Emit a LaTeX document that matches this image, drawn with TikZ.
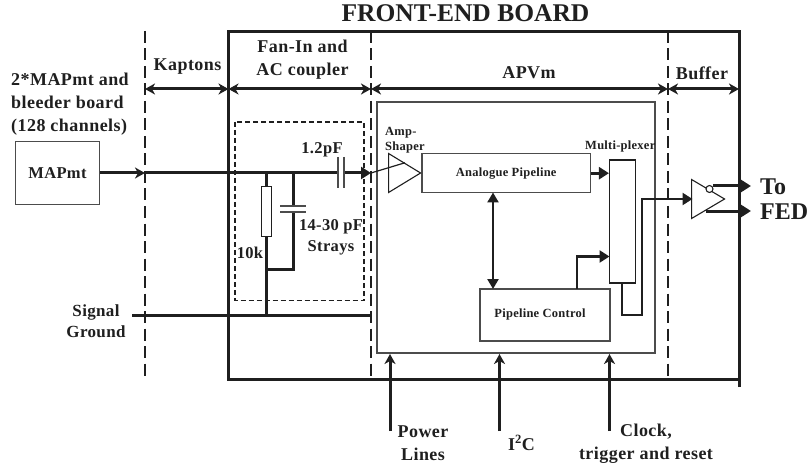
\documentclass[tikz,border=0pt]{standalone}
\usepackage{fontspec}
\setmainfont{Liberation Serif}
\usetikzlibrary{arrows.meta,shapes.geometric}
\definecolor{ink}{gray}{0.12}
\definecolor{edge}{gray}{0.3}
\tikzset{
  wire/.style={draw=ink,line width=3pt},
  wirem/.style={draw=ink,line width=2.4pt},
  thinw/.style={draw=ink,line width=1.2pt},
  dashline/.style={draw=ink,line width=2pt,dash pattern=on 12pt off 5.5pt},
  innerdash/.style={draw=ink,line width=1.6pt,dash pattern=on 5pt off 3pt},
  blockbox/.style={draw=edge,line width=1.1pt,rectangle,inner sep=0pt,font=\bfseries\fontsize{12.5}{15}\selectfont\addfontfeature{LetterSpace=2},text=ink},
  lab/.style={inner sep=0pt,text=ink,font=\bfseries\fontsize{18}{23}\selectfont\addfontfeature{LetterSpace=2.5}},
  labm/.style={inner sep=0pt,text=ink,font=\bfseries\fontsize{16.5}{21}\selectfont\addfontfeature{LetterSpace=2}},
  labl/.style={inner sep=0pt,text=ink,font=\bfseries\fontsize{24}{26}\selectfont},
  labs/.style={inner sep=0pt,text=ink,font=\bfseries\fontsize{12.5}{15}\selectfont\addfontfeature{LetterSpace=2}},
  amp/.style={draw=ink,line width=1.1pt,shape=isosceles triangle,isosceles triangle stretches,inner sep=0pt,anchor=apex,fill=white},
  harr/.style={{Stealth[length=10pt,width=11pt,inset=3pt]}-{Stealth[length=10pt,width=11pt,inset=3pt]}},
  tip/.style={-{Stealth[length=10pt,width=11pt,inset=3pt]}},
  soltip/.style={-{Stealth[length=10pt,width=12pt,inset=0pt]}},
  soltwo/.style={{Stealth[length=10pt,width=11pt,inset=0pt]}-{Stealth[length=10pt,width=11pt,inset=0pt]}},
}
\begin{document}
\begin{tikzpicture}[x=1pt,y=-1pt]
\useasboundingbox (0,0) rectangle (809,468);
% guide coordinates
\coordinate (dAt) at (145,31); \coordinate (dAb) at (145,380);
\coordinate (bTL) at (228.5,31.5); \coordinate (bTR) at (739,31.5);
\coordinate (bBL) at (228.5,379.5); \coordinate (bBR) at (739,379.5); \coordinate (bEnd) at (739,387);
\coordinate (dBt) at (371,31); \coordinate (dBb) at (371,315.5);
\coordinate (dCt) at (668,31); \coordinate (dCb) at (668,379.5);
\coordinate (h1) at (145,89); \coordinate (h2) at (228.5,89); \coordinate (h3) at (371,89); \coordinate (h4) at (668,89); \coordinate (h5) at (739,89);
% frame
\draw[dashline] (dAt) -- (dAb);
\draw[dashline] (dBt) -- (dBb) -- (371,379);
\draw[dashline] (dCt) -- (dCb);
\draw[wire,line join=miter] (bEnd) -- (bTR) -- (bTL) -- (bBL) -- (bBR);
\draw[wire,harr] (h1) -- (h2);
\draw[wire,harr] (h2) -- (h3);
\draw[wire,harr] (h3) -- (h4);
\draw[wire,harr] (h4) -- (h5);
% boxes
\node[blockbox,minimum width=278pt,minimum height=251pt] (apv) at (516,227.5) {};
\draw[innerdash] (235,122) rectangle (364,300.5);
\node[blockbox,minimum width=84pt,minimum height=63pt,font=\bfseries\fontsize{16.5}{19}\selectfont\addfontfeature{LetterSpace=2}] (pmt) at (57.5,173) {MAPmt};
\node[blockbox,minimum width=168.5pt,minimum height=38.5pt] (pipe) at (506.2,173.2) {Analogue Pipeline};
\node[blockbox,minimum width=26pt,minimum height=123pt,draw=ink] (mux) at (622.5,221.5) {};
\node[blockbox,minimum width=130pt,minimum height=52pt] (ctrl) at (545,315) {};
\node[labs] (ctrltxt) at (540,314) {Pipeline Control};
\node[amp,minimum height=32pt,minimum width=39pt] (shaper) at (422,173) {};
\node[amp,minimum height=33pt,minimum width=39pt] (buf) at (726,199) {};
\node[circle,draw=ink,fill=white,line width=1.1pt,minimum size=7pt,inner sep=0pt] (bub) at (709.5,189) {};
% resistor and capacitors
\node[draw=ink,line width=1.1pt,fill=white,rectangle,minimum width=10pt,minimum height=50pt,inner sep=0pt] (res) at (266.5,211.5) {};
\coordinate (sigA) at (145,173); \coordinate (sigB) at (371,173);
\coordinate (j1) at (266.5,173); \coordinate (j2) at (293,173);
\coordinate (c1) at (338,173); \coordinate (c2) at (344,173);
\coordinate (g0) at (132,315.5); \coordinate (g1) at (371,315.5); \coordinate (gj) at (266.5,315.5);
\coordinate (cs1) at (293,206); \coordinate (cs2) at (293,212); \coordinate (jr) at (266.5,269.5);
\draw[wire,tip] (pmt.east) -- (sigA);
\draw[wire] (sigA) -- (c1);
\draw[wire,soltip] (c2) -- (sigB);
\draw[thinw] (sigB) -- (shaper.left side);
\draw[wire] (j1) -- (res.north);
\draw[wire] (res.south) -- (gj);
\draw[wire] (j2) -- (cs1);
\draw[wire] (cs2) -- (293,269.5) -- (jr);
\draw[draw=edge,line width=1.3pt] (338,157) -- (338,188);
\draw[draw=edge,line width=1.3pt] (344,157) -- (344,188);
\draw[draw=edge,line width=1.3pt] (280,206) -- (306,206);
\draw[draw=edge,line width=1.3pt] (280,212) -- (306,212);
\draw[wire] (g0) -- (g1);
% inner connectors
\draw[wire,soltip] (pipe.east) -- (mux.west |- pipe.east);
\draw[wirem,soltwo] (493,192.5) -- (493,289);
\draw[wirem,soltip] (577,289) -- (577,256.5) -- (609.5,256.5);
\draw[wirem,soltip] (622,283) -- (622,315) -- (642,315) -- (642,199) -- (692.5,199);
\draw[wire,soltip] (713,186) -- (751,186);
\draw[wire,soltip] (706,211) -- (751,211);
% bottom arrows
\coordinate (p0) at (390,431); \coordinate (p1) at (390,354);
\coordinate (i0) at (499.5,431); \coordinate (i1) at (499.5,354);
\coordinate (k0) at (609.5,431); \coordinate (k1) at (609.5,354);
\draw[wire,tip] (p0) -- (p1);
\draw[wire,tip] (i0) -- (i1);
\draw[wire,tip] (k0) -- (k1);
% text
\node[inner sep=0pt,text=ink,font=\bfseries\fontsize{25.5}{27}\selectfont] (title) at (465.5,13) {FRONT-END BOARD};
\node[lab] (kap) at (187.5,67) {Kaptons};
\node[lab,align=center] (fan) at (302.5,59.5) {Fan-In and\\AC coupler};
\node[lab] (apvt) at (529,73) {APVm};
\node[lab] (buft) at (702,73) {Buffer};
\node[lab,align=left,anchor=west] (src) at (11,104.5) {2*MAPmt and\\bleeder board\\(128 channels)};
\node[labm] (cap1) at (322,150) {1.2pF};
\node[labm,align=center] (cap2) at (331,237.5) {14-30 pF\\Strays};
\node[labm] (rk) at (250,253) {10k};
\node[labm,align=center,font=\bfseries\fontsize{17}{20.5}\selectfont\addfontfeature{LetterSpace=2}] (sg) at (96,321) {Signal\\Ground};
\node[labs,align=left,anchor=west] (ampt) at (385,140.5) {Amp-\\Shaper};
\node[labs,anchor=west] (muxt) at (585,146) {Multi-plexer};
\node[lab,align=center] (pw) at (423,443.5) {Power\\Lines};
\node[lab] (i2c) at (521.5,443) {I\textsuperscript{2}C};
\node[lab,align=center] (clk) at (646,443.5) {Clock,\\trigger and reset};
\node[labl,anchor=west] (tot) at (760,187) {To};
\node[labl,anchor=west] (fed) at (760,212) {FED};
\end{tikzpicture}
\end{document}
